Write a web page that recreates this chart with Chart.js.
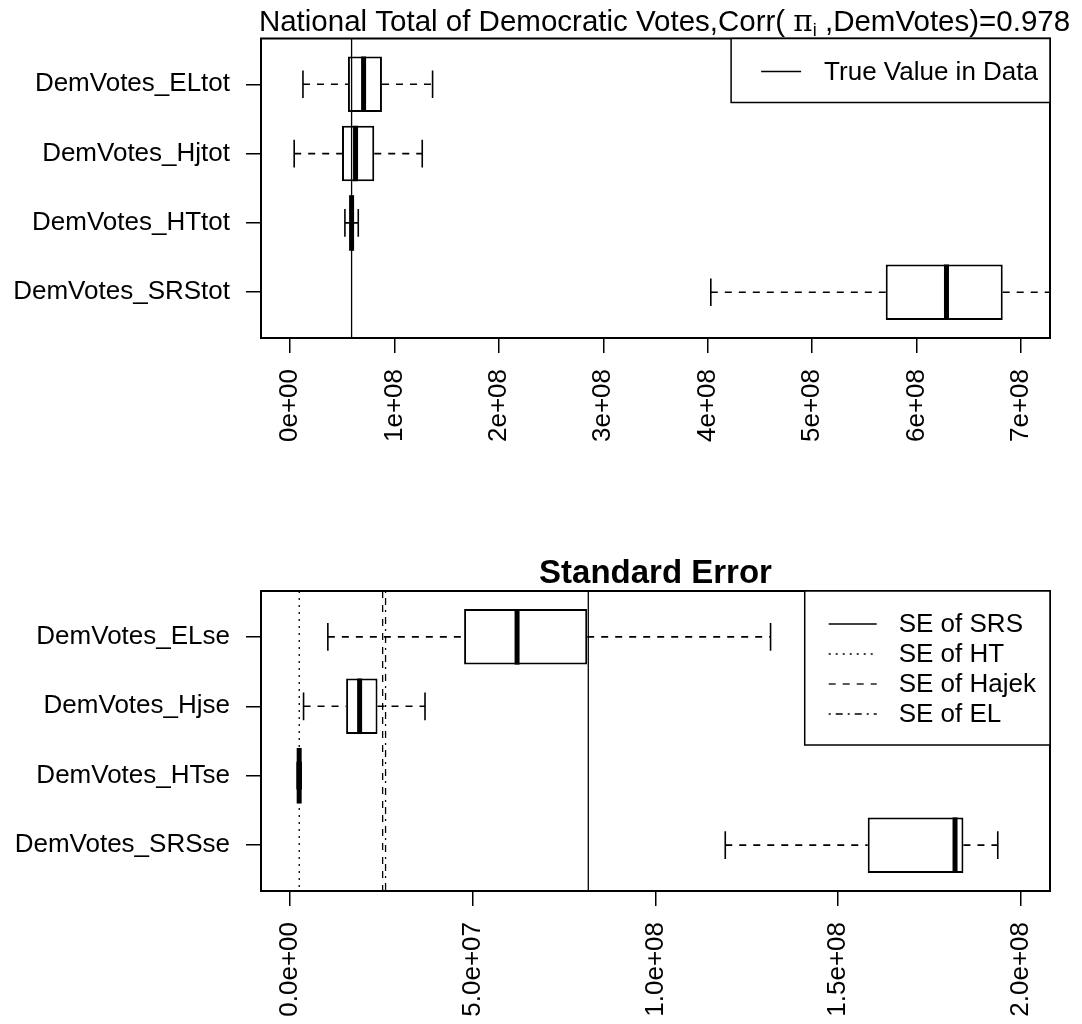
<!DOCTYPE html>
<html><head><meta charset="utf-8">
<script src="https://cdn.jsdelivr.net/npm/chart.js@4/dist/chart.umd.min.js"></script>
<style>
html,body{margin:0;padding:0;background:#fff;}
#wrap{position:relative;width:1082px;height:1024px;background:#fff;}
canvas{position:absolute;left:0;}
</style></head><body>
<div id="wrap">
<canvas id="c1" width="1082" height="512" style="top:0"></canvas>
<canvas id="c2" width="1082" height="512" style="top:512px"></canvas>
</div>
<script>
// ---------- data: top panel (national totals) ----------
const totCategories = ['DemVotes_ELtot', 'DemVotes_Hjtot', 'DemVotes_HTtot', 'DemVotes_SRStot'];
const totLow    = [0.122e8, 0.038e8, 0.524e8, 4.03e8];
const totQ1     = [0.553e8, 0.496e8, 0.575e8, 5.706e8];
const totMedian = [0.703e8, 0.626e8, 0.588e8, 6.288e8];
const totQ3     = [0.879e8, 0.805e8, 0.600e8, 6.827e8];
const totHigh   = [1.364e8, 1.265e8, 0.652e8, 7.5e8];
const totTrueValue = [0.588e8];
const totTrueLabel = ['True Value in Data'];
const totTicks = [0, 1e8, 2e8, 3e8, 4e8, 5e8, 6e8, 7e8];
const totTickLabels = ['0e+00', '1e+08', '2e+08', '3e+08', '4e+08', '5e+08', '6e+08', '7e+08'];
const totLimits = [0, 7e8];

// ---------- data: bottom panel (standard errors) ----------
const seCategories = ['DemVotes_ELse', 'DemVotes_Hjse', 'DemVotes_HTse', 'DemVotes_SRSse'];
const seLow    = [1.03e7, 0.365e7, 0.19e7, 11.91e7];
const seQ1     = [4.76e7, 1.53e7, 0.22e7, 15.81e7];
const seMedian = [6.21e7, 1.90e7, 0.245e7, 18.2e7];
const seQ3     = [8.13e7, 2.39e7, 0.27e7, 18.43e7];
const seHigh   = [13.15e7, 3.69e7, 0.30e7, 19.37e7];
const seRefLabels = ['SE of SRS', 'SE of HT', 'SE of Hajek', 'SE of EL'];
const seRefValues = [8.16e7, 0.247e7, 2.53e7, 2.61e7];
const seTicks = [0, 5e7, 1e8, 1.5e8, 2e8];
const seTickLabels = ['0.0e+00', '5.0e+07', '1.0e+08', '1.5e+08', '2.0e+08'];
const seLimits = [0, 2e8];

const groupPositions = [1, 2, 3, 4];

// ---------- styling ----------
const FONT = "'Liberation Sans', Arial, Helvetica, sans-serif";
Chart.defaults.font.family = FONT;
Chart.defaults.font.size = 26;
Chart.defaults.color = '#000';

const DASHES = { solid: [], dotted: [2, 5], dashed: [7, 7], dotdash: [2, 5, 7, 5] };

function ext(lim) { const d = lim[1] - lim[0]; return [lim[0] - 0.04 * d, lim[1] + 0.04 * d]; }

const boxPlugin = {
  id: 'rbox',
  afterDatasetsDraw(chart, args, o) {
    const ctx = chart.ctx, xs = chart.scales.x, a = chart.chartArea;
    const meta = chart.getDatasetMeta(0);
    ctx.save();
    ctx.beginPath(); ctx.rect(a.left, a.top, a.right - a.left, a.bottom - a.top); ctx.clip();
    ctx.strokeStyle = '#000'; ctx.lineCap = 'butt';
    meta.data.forEach((bar, i) => {
      const yc = bar.y, h = bar.height;
      const pLow = xs.getPixelForValue(o.low[i]), pQ1 = xs.getPixelForValue(o.q1[i]);
      const pQ3 = xs.getPixelForValue(o.q3[i]), pHigh = xs.getPixelForValue(o.high[i]);
      const pMed = xs.getPixelForValue(o.median[i]);
      ctx.lineWidth = 1.6; ctx.setLineDash(DASHES.dashed);
      ctx.beginPath(); ctx.moveTo(pLow, yc); ctx.lineTo(pQ1, yc); ctx.stroke();
      ctx.beginPath(); ctx.moveTo(pQ3, yc); ctx.lineTo(pHigh, yc); ctx.stroke();
      ctx.setLineDash([]);
      ctx.beginPath();
      ctx.moveTo(pLow, yc - h / 4); ctx.lineTo(pLow, yc + h / 4);
      ctx.moveTo(pHigh, yc - h / 4); ctx.lineTo(pHigh, yc + h / 4);
      ctx.stroke();
      ctx.lineWidth = 5;
      ctx.beginPath(); ctx.moveTo(pMed, yc - h / 2); ctx.lineTo(pMed, yc + h / 2); ctx.stroke();
    });
    o.refs.forEach(r => {
      const px = xs.getPixelForValue(r.value);
      ctx.lineWidth = 1.3; ctx.setLineDash(DASHES[r.lty]);
      ctx.beginPath(); ctx.moveTo(px, a.top); ctx.lineTo(px, a.bottom); ctx.stroke();
    });
    ctx.restore();
  },
  afterDraw(chart, args, o) {
    const ctx = chart.ctx, a = chart.chartArea;
    ctx.save();
    ctx.strokeStyle = '#000'; ctx.lineWidth = 2; ctx.setLineDash([]);
    ctx.strokeRect(a.left, a.top, a.right - a.left, a.bottom - a.top);
    const L = o.legend;
    ctx.font = '26px ' + FONT;
    let tw = 0; o.refs.forEach(r => tw = Math.max(tw, ctx.measureText(r.label).width));
    const rowH = 30, padTop = 18, padBot = 16;
    const boxW = tw + L.textOffset + L.rightPad;
    const boxH = padTop + rowH * o.refs.length + padBot;
    const bx = a.right - boxW, by = a.top;
    ctx.fillStyle = '#fff'; ctx.fillRect(bx, by, boxW, boxH);
    ctx.lineWidth = 1.5; ctx.strokeRect(bx, by, boxW, boxH);
    ctx.fillStyle = '#000'; ctx.textBaseline = 'middle'; ctx.textAlign = 'left';
    o.refs.forEach((r, i) => {
      const yy = by + padTop + rowH * i + rowH / 2;
      ctx.lineWidth = 1.3; ctx.setLineDash(DASHES[r.lty]);
      ctx.beginPath(); ctx.moveTo(bx + L.lineStart, yy); ctx.lineTo(bx + L.lineEnd, yy); ctx.stroke();
      ctx.setLineDash([]);
      ctx.fillText(r.label, bx + L.textOffset, yy + 1);
    });
    const T = o.title;
    const cx = (a.left + a.right) / 2 + (T.shift || 0), base = a.top - 8;
    ctx.textBaseline = 'alphabetic';
    let total = 0;
    T.parts.forEach(p => { ctx.font = p.font; total += ctx.measureText(p.text).width; });
    let x = cx - total / 2;
    T.parts.forEach(p => {
      ctx.font = p.font; ctx.fillText(p.text, x, base + (p.dy || 0));
      x += ctx.measureText(p.text).width;
    });
    ctx.restore();
  }
};

function makeChart(id, cfg) {
  const yLim = ext([0.5, 4.5]);
  const xLim = ext(cfg.limits);
  return new Chart(document.getElementById(id), {
    type: 'bar',
    data: {
      datasets: [{
        data: groupPositions.map((p, i) => ({ y: p, x: [cfg.q1[i], cfg.q3[i]] })),
        backgroundColor: '#fff', borderColor: '#000', borderWidth: 2, borderSkipped: false,
        categoryPercentage: 0.8, barPercentage: 1.0
      }]
    },
    options: {
      indexAxis: 'y', responsive: false, animation: false, devicePixelRatio: 1, events: [],
      layout: { padding: { left: 0, right: 32, top: cfg.top, bottom: 0 } },
      plugins: {
        legend: { display: false }, tooltip: { enabled: false }, title: { display: false },
        rbox: {
          low: cfg.low, q1: cfg.q1, median: cfg.median, q3: cfg.q3, high: cfg.high,
          refs: cfg.refs, legend: cfg.legend, title: cfg.title
        }
      },
      scales: {
        x: {
          type: 'linear', min: xLim[0], max: xLim[1], offset: false,
          afterBuildTicks: s => { s.ticks = cfg.ticks.map(v => ({ value: v })); },
          afterFit: s => { s.height = cfg.xHeight; },
          ticks: { autoSkip: false, minRotation: 90, maxRotation: 90, padding: 16,
                   callback: (v, i) => cfg.tickLabels[i] },
          grid: { display: true, offset: false, drawOnChartArea: false, drawTicks: true, tickLength: 15, color: '#000', lineWidth: 1.5 },
          border: { display: false }
        },
        y: {
          type: 'linear', min: yLim[0], max: yLim[1], reverse: true, offset: false,
          afterBuildTicks: s => { s.ticks = groupPositions.map(v => ({ value: v })); },
          afterFit: s => { s.width = 261; },
          ticks: { autoSkip: false, padding: 16, callback: (v, i) => cfg.categories[i] },
          grid: { display: true, offset: false, drawOnChartArea: false, drawTicks: true, tickLength: 15, color: '#000', lineWidth: 1.5 },
          border: { display: false }
        }
      }
    },
    plugins: [boxPlugin]
  });
}

makeChart('c1', {
  categories: totCategories, low: totLow, q1: totQ1, median: totMedian, q3: totQ3, high: totHigh,
  limits: totLimits, ticks: totTicks, tickLabels: totTickLabels,
  top: 38.5, xHeight: 174,
  refs: [{ value: totTrueValue[0], lty: 'solid', label: totTrueLabel[0] }],
  legend: { lineStart: 30, lineEnd: 70, textOffset: 93, rightPad: 12 },
  title: { shift: 9, parts: [
    { text: 'National Total of Democratic Votes,Corr( ', font: '29.5px ' + FONT },
    { text: 'π', font: '29.5px "DejaVu Serif", "Liberation Serif", serif' },
    { text: 'i', font: '18px ' + FONT, dy: 5 },
    { text: ' ,DemVotes)=0.978', font: '29.5px ' + FONT }
  ] }
});

makeChart('c2', {
  categories: seCategories, low: seLow, q1: seQ1, median: seMedian, q3: seQ3, high: seHigh,
  limits: seLimits, ticks: seTicks, tickLabels: seTickLabels,
  top: 79, xHeight: 133,
  refs: seRefLabels.map((l, i) => ({ value: seRefValues[i], lty: ['solid', 'dotted', 'dashed', 'dotdash'][i], label: l })),
  legend: { lineStart: 24, lineEnd: 72, textOffset: 94, rightPad: 14 },
  title: { parts: [ { text: 'Standard Error', font: 'bold 33px ' + FONT } ] }
});
</script>
</body></html>
